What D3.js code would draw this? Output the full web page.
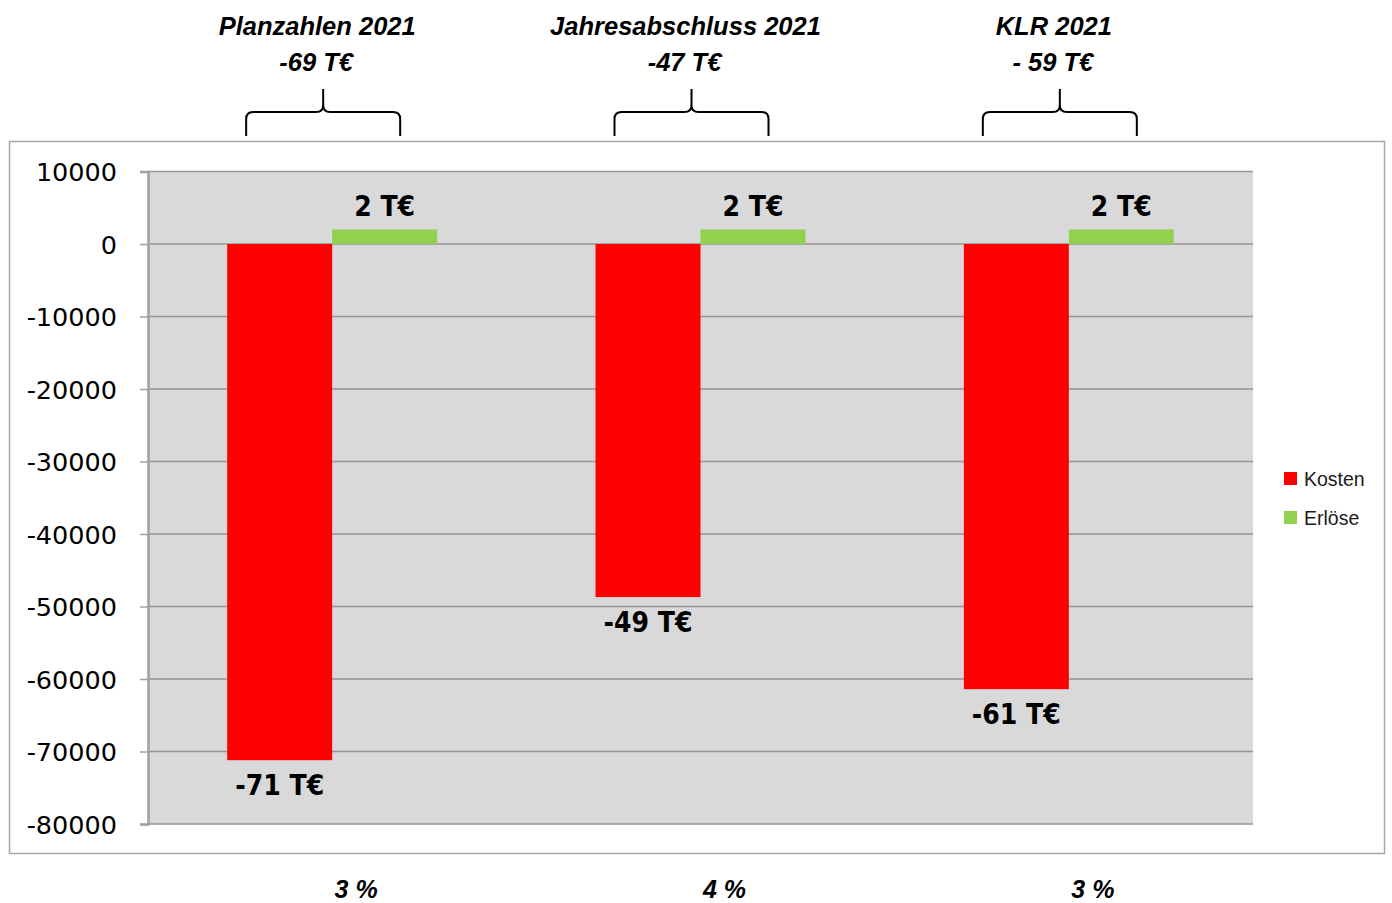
<!DOCTYPE html>
<html><head><meta charset="utf-8">
<script src="https://cdn.jsdelivr.net/npm/d3@7"></script>
<style>body{margin:0;background:#fff}svg{display:block}</style>
</head><body>
<svg id="c" width="1392" height="903"></svg>
<script>
const categories = ["Planzahlen 2021", "Jahresabschluss 2021", "KLR 2021"];
const totals = ["-69 T€", "-47 T€", "- 59 T€"];
const shares = ["3 %", "4 %", "3 %"];
const seriesNames = ["Kosten", "Erlöse"];
const kosten = [-71200, -48700, -61400];
const erloese = [2000, 2000, 2000];
const kostenLabels = ["-71 T€", "-49 T€", "-61 T€"];
const erloeseLabels = ["2 T€", "2 T€", "2 T€"];
const yTicks = [10000, 0, -10000, -20000, -30000, -40000, -50000, -60000, -70000, -80000];
const colors = {"Kosten": "#ff0000", "Erlöse": "#92d050"};

const svg = d3.select("#c");
const plot = {left: 148, right: 1253, top: 171.5, bottom: 824};

// outer chart frame
svg.append("rect").attr("x", 9.5).attr("y", 141.5).attr("width", 1375).attr("height", 712)
  .attr("fill", "#fff").attr("stroke", "#a6a6a6").attr("stroke-width", 1.5);

const x = d3.scaleBand().domain(categories).range([plot.left, plot.right])
  .paddingInner(0.43).paddingOuter(0.215);
const xs = d3.scaleBand().domain(seriesNames).range([0, x.bandwidth()]);
const y = d3.scaleLinear().domain([-80000, 10000]).range([plot.bottom, plot.top]);

// plot background
svg.append("rect").attr("x", plot.left).attr("y", plot.top)
  .attr("width", plot.right - plot.left).attr("height", plot.bottom - plot.top)
  .attr("fill", "#d9d9d9");

// gridlines
svg.append("g").selectAll("line").data(yTicks).join("line")
  .attr("x1", plot.left).attr("x2", plot.right)
  .attr("y1", d => y(d)).attr("y2", d => y(d))
  .attr("stroke", "#959595").attr("stroke-width", 1.5);

// axis
const ax = svg.append("g").attr("transform", `translate(${plot.left},0)`)
  .call(d3.axisLeft(y).tickValues(yTicks).tickSize(8).tickPadding(23).tickFormat(d3.format("d")));
ax.select(".domain").attr("stroke", "#a0a0a0").attr("stroke-width", 2.5);
ax.selectAll(".tick line").attr("stroke", "#a0a0a0").attr("stroke-width", 1.5);
ax.selectAll(".tick text").attr("fill", "#000").attr("font-family", "DejaVu Sans")
  .attr("font-size", 25.5).attr("dy", "0.36em").text(d => d3.format("d")(d).replace("−", "-"));

// bars
const rows = categories.map((c, i) => ({c, i, Kosten: kosten[i], "Erlöse": erloese[i]}));
const gBars = svg.append("g");
rows.forEach(r => {
  seriesNames.forEach(s => {
    const v = r[s];
    gBars.append("rect")
      .attr("x", x(r.c) + xs(s)).attr("width", xs.bandwidth())
      .attr("y", y(Math.max(0, v))).attr("height", Math.abs(y(v) - y(0)))
      .attr("fill", colors[s]);
  });
});

// data labels
const lblFont = "'Liberation Sans Narrow','DejaVu Sans Condensed',sans-serif";
rows.forEach(r => {
  svg.append("text").attr("x", x(r.c) + xs("Kosten") + xs.bandwidth() / 2)
    .attr("y", y(kosten[r.i]) + 35).attr("text-anchor", "middle")
    .attr("font-family", lblFont).attr("font-weight", "bold").attr("font-size", 28)
    .text(kostenLabels[r.i]);
  svg.append("text").attr("x", x(r.c) + xs("Erlöse") + xs.bandwidth() / 2)
    .attr("y", y(erloese[r.i]) - 14).attr("text-anchor", "middle")
    .attr("font-family", lblFont).attr("font-weight", "bold").attr("font-size", 28)
    .text(erloeseLabels[r.i]);
});

// brackets and titles
const titleFont = "'Liberation Sans',Arial,sans-serif";
rows.forEach(r => {
  const gc = x(r.c) + x.bandwidth() / 2;
  const cx = gc - 9;
  const half = 77, yh = 112, yb = 136, yt = 89, rr = 7;
  const L = cx - half, R = cx + half;
  const p = `M${L},${yb} L${L},${yh + rr} Q${L},${yh} ${L + rr},${yh} L${cx - rr},${yh} Q${cx},${yh} ${cx},${yh - rr} L${cx},${yt}` +
            ` M${cx},${yh - rr} Q${cx},${yh} ${cx + rr},${yh} L${R - rr},${yh} Q${R},${yh} ${R},${yh + rr} L${R},${yb}`;
  svg.append("path").attr("d", p).attr("fill", "none").attr("stroke", "#000").attr("stroke-width", 2);
  svg.append("text").attr("x", gc - 15).attr("y", 35).attr("text-anchor", "middle")
    .attr("font-family", titleFont).attr("font-weight", "bold").attr("font-style", "italic")
    .attr("font-size", 25.5).text(r.c);
  svg.append("text").attr("x", gc - 16).attr("y", 71).attr("text-anchor", "middle")
    .attr("font-family", titleFont).attr("font-weight", "bold").attr("font-style", "italic")
    .attr("font-size", 25.5).text(totals[r.i]);
  svg.append("text").attr("x", gc + 24).attr("y", 898).attr("text-anchor", "middle")
    .attr("font-family", titleFont).attr("font-weight", "bold").attr("font-style", "italic")
    .attr("font-size", 25).text(shares[r.i]);
});

// legend
const lg = svg.append("g").attr("transform", "translate(1284,472)");
seriesNames.forEach((s, i) => {
  lg.append("rect").attr("x", 0).attr("y", i * 39).attr("width", 13).attr("height", 13).attr("fill", colors[s]);
  lg.append("text").attr("x", 20).attr("y", i * 39 + 14).attr("font-family", titleFont)
    .attr("font-size", 19.5).attr("fill", "#1a1a1a").text(s);
});
</script>
</body></html>
